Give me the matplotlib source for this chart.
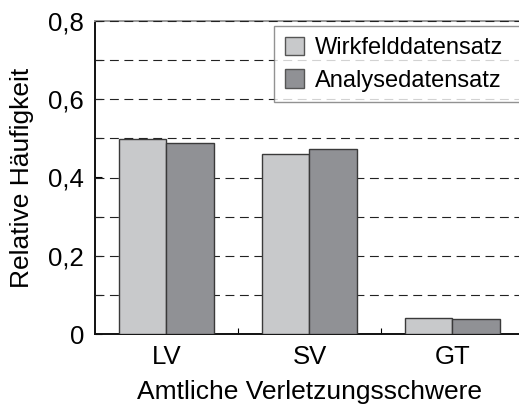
import numpy as np
import matplotlib
matplotlib.use("Agg")
import matplotlib.pyplot as plt
from matplotlib.ticker import FuncFormatter, MultipleLocator, FixedLocator

plt.rcParams['font.family'] = ['Liberation Sans', 'DejaVu Sans']

categories = ['LV', 'SV', 'GT']
wirkfeld = [0.498, 0.461, 0.040]
analyse = [0.488, 0.472, 0.038]
series_names = ['Wirkfelddatensatz', 'Analysedatensatz']

fs_tick = 18.5
fs_label = 19
fs_leg = 17
fig = plt.figure(figsize=(5.19, 4.09), dpi=100)
ax = fig.add_axes([95/519, 75/409, 429/519, 313/409])

x = np.arange(len(categories))
w = 1/3
ax.bar(x - w/2, wirkfeld, w, color='#c8c9cb', edgecolor='#3a3a3a', linewidth=1.0,
       label=series_names[0], zorder=3)
ax.bar(x + w/2, analyse, w, color='#909195', edgecolor='#3a3a3a', linewidth=1.0,
       label=series_names[1], zorder=3)

# dashed horizontal guides every 0.1
for yv in np.arange(0.1, 0.85, 0.1):
    ax.axhline(yv, color='#222222', lw=0.8, ls=(0, (8, 5)), zorder=2.6,
               clip_on=False)

ax.set_xlim(-0.5, 2.5)
ax.set_ylim(0, 0.8)
ax.set_xticks(x)
ax.set_xticklabels(categories, fontsize=fs_tick)
ax.xaxis.set_minor_locator(FixedLocator([0.5, 1.5]))
ax.tick_params(axis='x', which='major', length=0, pad=8)
ax.tick_params(axis='x', which='minor', direction='in', length=4, width=0.8)

ax.yaxis.set_major_locator(MultipleLocator(0.2))
ax.yaxis.set_minor_locator(MultipleLocator(0.1))
ax.yaxis.set_major_formatter(FuncFormatter(
    lambda v, p: '0' if abs(v) < 1e-9 else f'{v:.1f}'.replace('.', ',')))
ax.tick_params(axis='y', which='both', direction='in', length=5, width=0.8,
               labelsize=fs_tick, pad=8)

for s in ['left', 'bottom']:
    ax.spines[s].set_linewidth(1.4)
    ax.spines[s].set_color('#111111')
ax.spines['top'].set_color('#999999')
ax.spines['top'].set_linewidth(1.4)
ax.spines['top'].set_zorder(2.5)
ax.spines['right'].set_visible(False)

ax.set_ylabel('Relative Häufigkeit', fontsize=fs_label, labelpad=10)
ax.set_xlabel('Amtliche Verletzungsschwere', fontsize=fs_label, labelpad=8)

# legend box runs past the right edge of the figure
leg = ax.legend(loc='upper left', bbox_to_anchor=(274/519, 1 - 26/409, 260/519, 0),
                bbox_transform=fig.transFigure, mode='expand', fontsize=fs_leg,
                frameon=True, fancybox=False, handlelength=0.8, handleheight=0.8,
                handletextpad=0.5, borderpad=0.45, labelspacing=0.45,
                borderaxespad=0)
leg.get_frame().set_edgecolor('#777777')
leg.get_frame().set_linewidth(1.0)
for h in leg.legend_handles:
    h.set_edgecolor('#555555')
leg.set_zorder(5)

fig.savefig('out.png', dpi=100)
